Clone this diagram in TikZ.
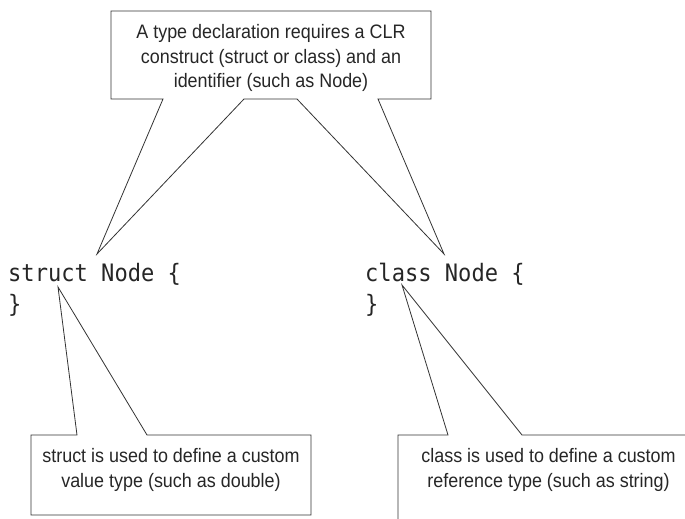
\documentclass[tikz,border=0pt]{standalone}
\usepackage{fontspec}
\setmainfont{Liberation Sans}[FakeStretch=0.92]
\newfontfamily\codefont{DejaVu Sans Mono}[FakeStretch=0.92]
\usetikzlibrary{calc}

\tikzset{
  note/.style={align=center, inner sep=0pt, anchor=base, text=black!85,
    font=\fontsize{19.5}{25}\selectfont},
  code/.style={inner sep=0pt, anchor=base west, text=black!85,
    font=\codefont\fontsize{24}{31}\selectfont},
  callout/.style={line width=0.8pt, draw=black!80, line join=miter}
}

\begin{document}
\begin{tikzpicture}[x=1pt, y=-1pt]
		%%%%% START %%%%%
		
		\useasboundingbox (0,0) rectangle (685,519);
		\clip (0,0) rectangle (685,519);
		
		% code lines
		\node[code] (structcode) at (8, 281) {struct Node \{};
		\node[code] (structclose) at (8, 312) {\}};
		\node[code] (classcode) at (365, 281) {class Node \{};
		\node[code] (classclose) at (365, 312) {\}};
		
		% callout tips
		\coordinate (declTipL) at (97, 254);
		\coordinate (declTipR) at (444, 254);
		\coordinate (valTip) at (58, 287);
		\coordinate (refTip) at (402, 285);
		
		% top callout (anchor on last line)
		\node[note] (decl) at (271, 88) {A type declaration requires a CLR\\construct (struct or class) and an\\identifier (such as Node)};
		\draw[callout] (163, 99) -- (111, 99) -- (111, 11) -- (431, 11) -- (431, 99) -- (378, 99)
			-- (declTipR) -- (297, 99) -- (244, 99) -- (declTipL) -- cycle;
		
		% struct callout
		\node[note] (valnote) at (171, 487) {struct is used to define a custom\\value type (such as double)};
		\draw[callout] (77, 435) -- (valTip) -- (147, 435) -- (311, 435) -- (311, 515)
			-- (31, 515) -- (31, 435) -- cycle;
		
		% class callout
		\node[note] (refnote) at (548.5, 487) {class is used to define a custom\\reference type (such as string)};
		\draw[callout] (448, 435) -- (refTip) -- (522, 435) -- (700, 435) -- (700, 530)
			-- (398, 530) -- (398, 435) -- cycle;
		
		%%%%% END %%%%%
	\end{tikzpicture}
\end{document}
